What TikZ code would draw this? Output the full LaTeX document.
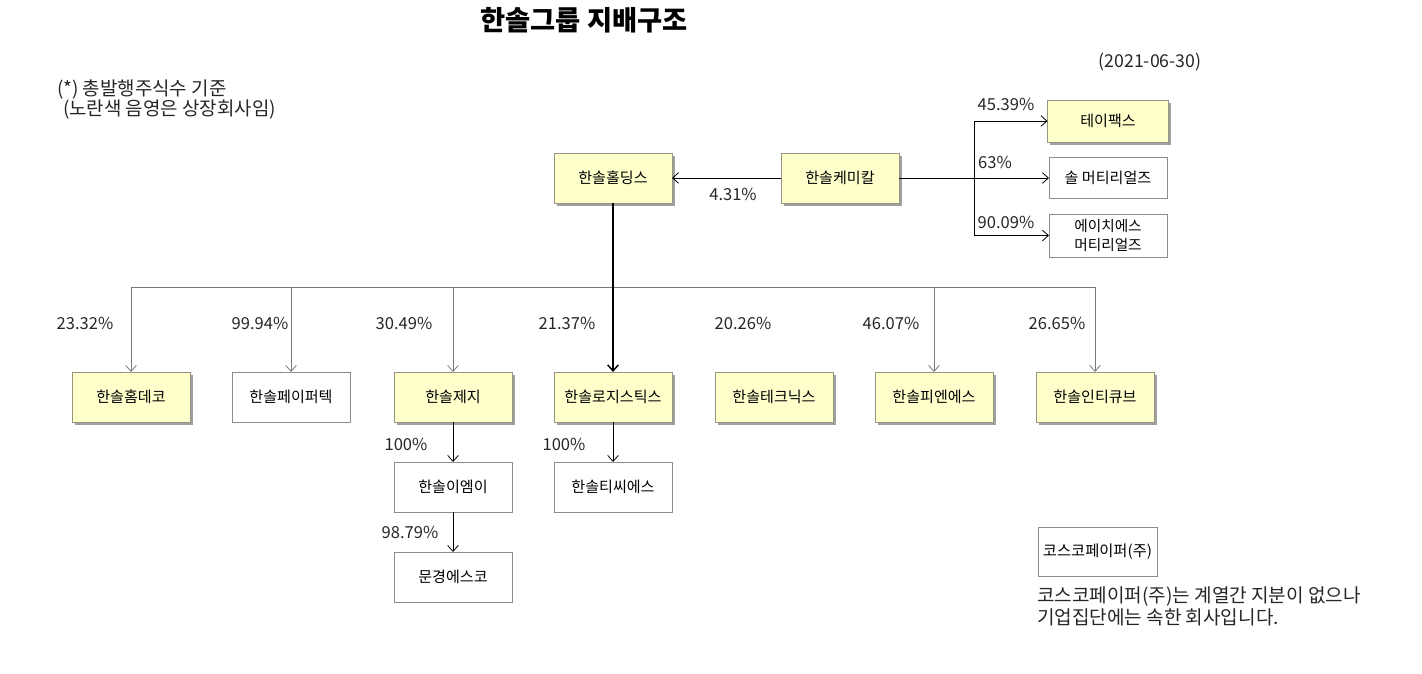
\documentclass[tikz,border=0pt]{standalone}
\usepackage{fontspec}
\setmainfont{Noto Sans CJK KR}
\usetikzlibrary{arrows.meta,shadows}
\definecolor{yfill}{RGB}{255,255,204}
\definecolor{yborder}{RGB}{150,150,130}
\definecolor{wborder}{RGB}{140,140,140}
\definecolor{busgray}{RGB}{120,120,120}
\definecolor{shadowgray}{RGB}{160,160,160}
\begin{document}
\begin{tikzpicture}[x=0.75pt,y=-0.75pt,
  every node/.style={inner sep=0pt, outer sep=0pt},
  boxbase/.style={minimum width=88.5pt, minimum height=37.5pt, font=\fontsize{11.3}{13}\selectfont, align=center},
  ybox/.style={boxbase, draw=yborder, fill=yfill, line width=0.6pt,
    drop shadow={shadow xshift=2.2pt, shadow yshift=-2.2pt, fill=shadowgray, opacity=1}},
  wbox/.style={boxbase, draw=wborder, fill=white, line width=0.6pt},
  pct/.style={font=\fontsize{12.4}{14}\selectfont, text=black!85},
  arr/.style={draw=black, line width=0.6pt, -{Straight Barb[length=4.5pt,width=8pt]}},
  garr/.style={draw=busgray, line width=0.6pt, -{Straight Barb[length=4.5pt,width=8pt]}},
]
\useasboundingbox (0,0) rectangle (1422,674);

% title and notes
\node[font=\fontsize{20.5}{24}\bfseries] (title) at (584,20) {한솔그룹 지배구조};
\node[pct, font=\fontsize{13.3}{15}\selectfont] (date) at (1150,62) {(2021-06-30)};
\node[pct, anchor=west, font=\fontsize{14.2}{16}\selectfont] (note1) at (57,90) {(*) 총발행주식수 기준};
\node[pct, anchor=west, font=\fontsize{14.2}{16}\selectfont] (note2) at (63,110) {(노란색 음영은 상장회사임)};

% top row
\node[ybox] (holdings) at (613,178) {한솔홀딩스};
\node[ybox] (chem) at (840,178) {한솔케미칼};
\node[ybox, minimum width=90.75pt, minimum height=31.5pt] (tapex) at (1108,121) {테이팩스};
\node[wbox, minimum height=30.75pt] (sol) at (1108,178) {솔 머티리얼즈};
\node[wbox, minimum height=32.25pt, font=\fontsize{11}{14.5}\selectfont] (hs) at (1108,235.5) {에이치에스\\머티리얼즈};

\coordinate (t1) at (974,121);
\coordinate (t3) at (974,235.5);
\draw[arr] (chem.west) -- (holdings.east);
\draw[black, line width=0.6pt] (t1) -- (t3);
\draw[arr] (chem.east) -- (sol.west);
\draw[arr] (t1) -- (tapex.west);
\draw[arr] (t3) -- (hs.west);
\node[pct] (l431) at (733,194) {4.31\%};
\node[pct] (l4539) at (1006,104) {45.39\%};
\node[pct] (l63) at (995,162) {63\%};
\node[pct] (l9009) at (1006,222) {90.09\%};

% second row
\node[ybox] (homdeco) at (131,397) {한솔홈데코};
\node[wbox] (papertech) at (291,397) {한솔페이퍼텍};
\node[ybox] (paper) at (453,397) {한솔제지};
\node[ybox] (logis) at (613,397) {한솔로지스틱스};
\node[ybox] (technics) at (774,397) {한솔테크닉스};
\node[ybox] (pns) at (934,397) {한솔피엔에스};
\node[ybox] (inticube) at (1095,397) {한솔인티큐브};

\coordinate (bl) at (131,287);
\coordinate (br) at (1095,287);
\coordinate (b2) at (291,287);
\coordinate (b3) at (453,287);
\coordinate (b6) at (934,287);
\draw[busgray, line width=0.6pt] (bl) -- (br);
\draw[garr] (bl) -- (homdeco.north);
\draw[garr] (b2) -- (papertech.north);
\draw[garr] (b3) -- (paper.north);
\draw[garr] (b6) -- (pns.north);
\draw[garr] (br) -- (inticube.north);
\draw[arr, line width=1.1pt] (holdings.south) -- (logis.north);

\node[pct] (p1) at (85,323) {23.32\%};
\node[pct] (p2) at (260,323) {99.94\%};
\node[pct] (p3) at (404,323) {30.49\%};
\node[pct] (p4) at (567,323) {21.37\%};
\node[pct] (p5) at (743,323) {20.26\%};
\node[pct] (p6) at (891,323) {46.07\%};
\node[pct] (p7) at (1057,323) {26.65\%};

% lower
\node[wbox] (eme) at (453,487) {한솔이엠이};
\node[wbox] (mungyeong) at (453,577) {문경에스코};
\node[wbox] (tcs) at (613,487) {한솔티씨에스};
\draw[arr] (paper.south) -- (eme.north);
\draw[arr] (eme.south) -- (mungyeong.north);
\draw[arr] (logis.south) -- (tcs.north);
\node[pct] (q1) at (406,444) {100\%};
\node[pct] (q2) at (410,532) {98.79\%};
\node[pct] (q3) at (564,444) {100\%};

% cosco
\node[wbox, minimum width=89.25pt, minimum height=36.75pt, font=\fontsize{11.5}{13}\selectfont] (cosco) at (1097.5,551.5) {코스코페이퍼(주)};
\node[anchor=west, font=\fontsize{14.3}{16}\selectfont, align=left, text=black!85] (cosconote) at (1037,606.5) {코스코페이퍼(주)는 계열간 지분이 없으나\\기업집단에는 속한 회사입니다.};
\end{tikzpicture}
\end{document}
